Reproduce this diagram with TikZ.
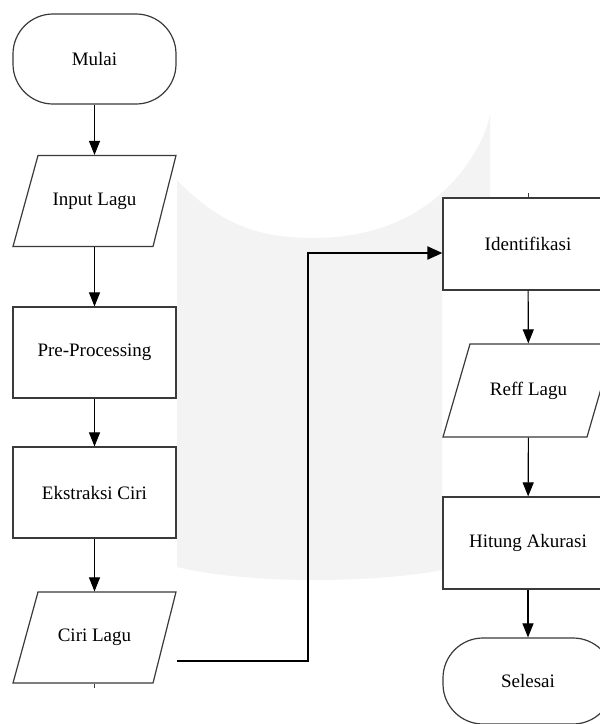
\documentclass[tikz,border=0pt]{standalone}
\usepackage{fontspec}
\setmainfont{Liberation Serif}
\newfontfamily\diagfont{Liberation Serif}
\usetikzlibrary{arrows.meta}
\definecolor{wmgray}{HTML}{F3F3F3}
\definecolor{edge}{HTML}{3A3A3A}
\tikzset{
  base/.style={draw=edge, line width=1.2pt, fill=white, align=center, inner sep=0pt,
    font=\diagfont\fontsize{19}{23}\selectfont},
  termbox/.style={base, rectangle, rounded corners=40pt, minimum width=163pt, minimum height=90pt},
  procbox/.style={base, rectangle, minimum width=163pt, minimum height=91pt},
  iobox/.style={base, draw=none, fill=none, rectangle, minimum width=163pt, minimum height=91pt},
  ioline/.style={draw=edge, line width=1.2pt, fill=white, line join=miter},
  flow/.style={draw=black, line width=1.1pt, -{Triangle[length=14pt,width=11pt]}},
  mainflow/.style={draw=black, line width=2pt, -{Triangle[length=15pt,width=13pt]}},
  stub/.style={draw=edge, line width=1pt},
  wm/.style={fill=wmgray}
}
\begin{document}
\begin{tikzpicture}[x=1pt,y=-1pt]
\useasboundingbox (0,0) rectangle (600,724);
\clip (0,0) rectangle (600,724);
\fill[white] (0,0) rectangle (600,724);
% faint background watermark
\fill[wm] (177,180) .. controls (220,225) and (260,238) .. (313,238)
  .. controls (390,238) and (440,205) .. (470,160)
  .. controls (480,145) and (487,130) .. (490,115)
  -- (490,198) -- (442,198) -- (442,570)
  .. controls (400,578) and (350,580) .. (313,580)
  .. controls (260,580) and (210,575) .. (177,567) -- cycle;

% parallelogram outlines
\draw[ioline] (13,246.5) -- (153,246.5) -- (176,155.5) -- (38,155.5) -- cycle;
\draw[ioline] (13,683) -- (153,683) -- (176,592) -- (38,592) -- cycle;
\draw[ioline] (443,437) -- (587,437) -- (614,344) -- (470,344) -- cycle;

% left column
\node[termbox] (mulai) at (94.5,59) {Mulai};
\node[iobox] (input) at (94.5,201) {Input Lagu};
\node[procbox] (pre) at (94.5,352.5) {Pre-Processing};
\node[procbox] (eks) at (94.5,492.5) {Ekstraksi Ciri};
\node[iobox] (ciri) at (94.5,637.5) {Ciri Lagu};

% right column
\node[procbox, minimum width=170pt, minimum height=92pt] (iden) at (528,244) {Identifikasi};
\node[iobox, minimum width=171pt, minimum height=93pt] (reff) at (528.5,390.5) {Reff Lagu};
\node[procbox, minimum width=170pt, minimum height=92pt] (hit) at (528,543) {Hitung Akurasi};
\node[termbox, minimum width=170pt, minimum height=86pt] (sel) at (528,681) {Selesai};

% connectors
\draw[flow] (mulai) -- (input);
\draw[flow] (input) -- (pre);
\draw[flow] (pre) -- (eks);
\draw[flow] (eks) -- (ciri);
\draw[flow] (iden) -- (reff);
\draw[flow] (reff) -- (hit);
\draw[flow] (hit) -- (sel);

\coordinate (cs) at (177,661);
\coordinate (ct) at (iden.west |- 0,253);
\draw[mainflow] (cs) -- (308,661) -- (308,253) -- (ct);

% short stubs
\coordinate (s1) at (94.5,688);
\draw[stub] (ciri.south) -- (s1);
\coordinate (s2) at (528,193);
\draw[stub] (iden.north) -- (s2);
\end{tikzpicture}
\end{document}
